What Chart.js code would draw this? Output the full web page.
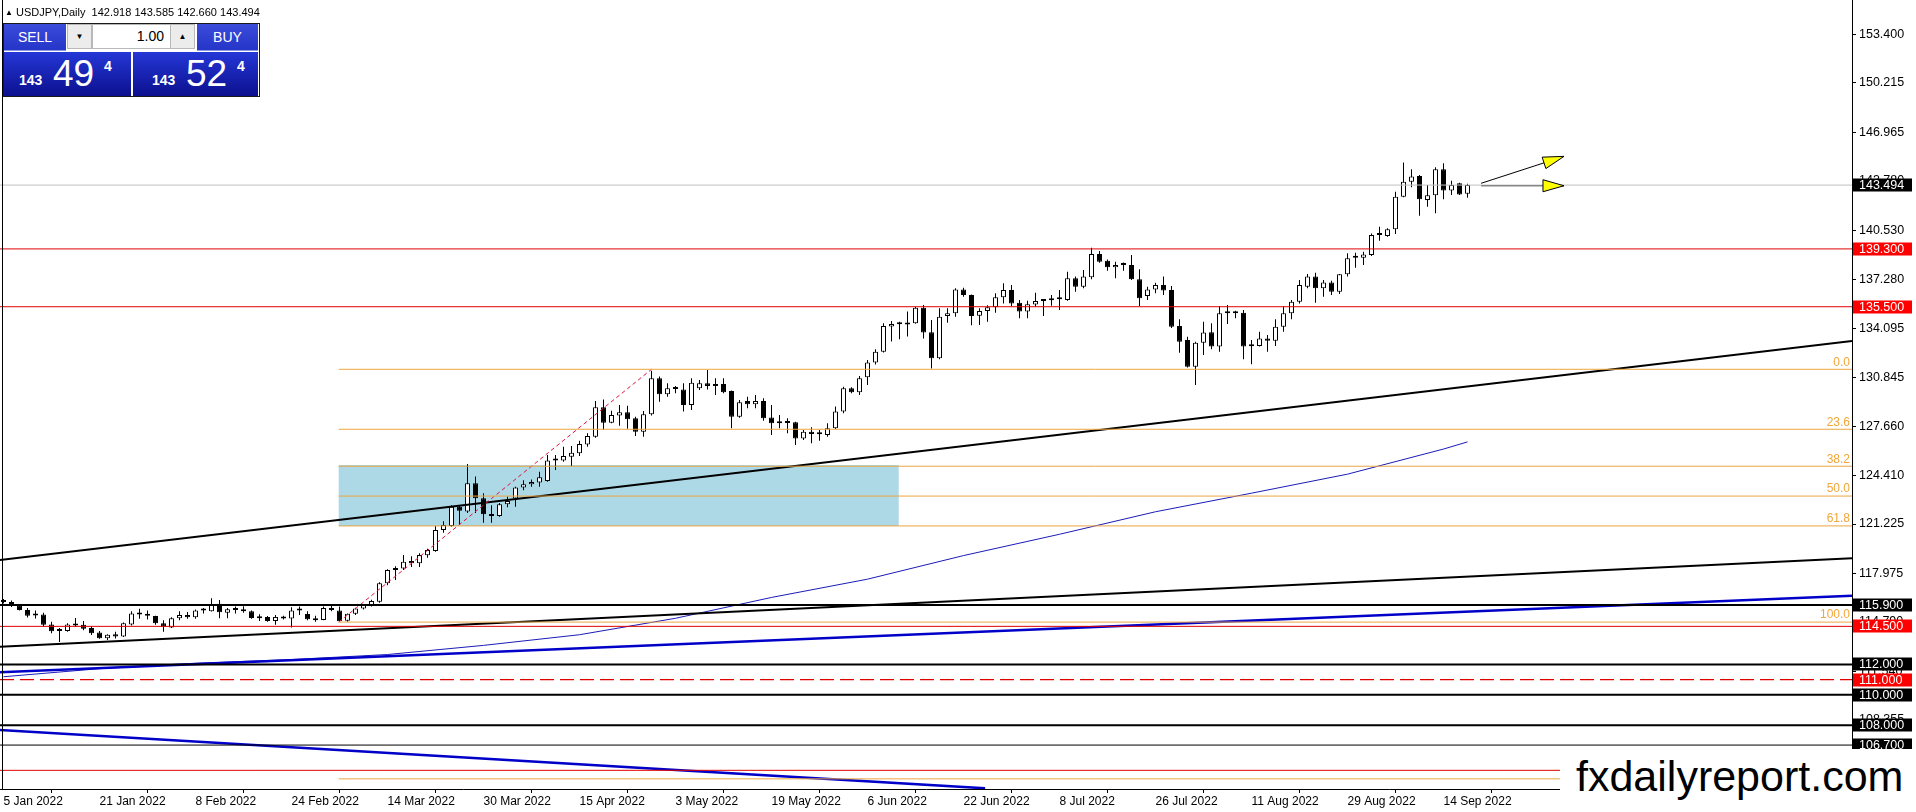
<!DOCTYPE html>
<html>
<head>
<meta charset="utf-8">
<script src="https://cdn.jsdelivr.net/npm/chart.js@4.4.0/dist/chart.umd.min.js"></script>
<style>
  html, body { margin: 0; padding: 0; background: #fff; overflow: hidden; }
  #wrap { position: relative; width: 1916px; height: 812px; font-family: 'Liberation Sans', Arial, sans-serif; }
  canvas { position: absolute; left: 0; top: 0; }
  #title { position: absolute; left: 5px; top: 6px; font-size: 11px; color: #000; white-space: pre; line-height: 13px; }
  #title b { font-weight: normal; font-size: 8px; vertical-align: 1px; }
  .abs { position: absolute; box-sizing: border-box; }
  #panel { left: 3px; top: 23px; width: 257px; height: 74px; border: 1px solid #1a1a1a; background: #fff; }
  .head { top: 24px; height: 27px; background: linear-gradient(#3b4bda, #2535c8); color: #fff; font-size: 14px; line-height: 26px; text-align: center; border-bottom: 1px solid #8f9ae6; }
  .btn { top: 24px; height: 25px; width: 25px; background: #ececec; border: 1px solid #b8b8b8; font-size: 8px; line-height: 23px; text-align: center; color: #000; }
  #lot { left: 92px; top: 24px; width: 79px; height: 25px; background: #fff; border: 1px solid #b8b8b8; font-size: 14px; line-height: 23px; text-align: right; padding-right: 6px; }
  .price { top: 52px; height: 44px; background: linear-gradient(#2537d6, #0c108f); color: #fff; }
  .price span { position: absolute; line-height: 1; white-space: nowrap; }
  .small { font-size: 14px; font-weight: bold; top: 21px; }
  .big { font-size: 37px; top: 3px; }
  .sup { font-size: 14px; font-weight: bold; top: 7px; }
  #mark { left: 1560px; top: 749px; width: 356px; height: 63px; background: #fff; }
  #mark span { position: absolute; left: 16px; top: 6px; font-size: 43px; line-height: 1; color: #000; white-space: nowrap; }
</style>
</head>
<body>
<div id="wrap">
  <canvas id="chart" width="1916" height="812"></canvas>
  <div id="title"><b>▲</b> USDJPY,Daily  142.918 143.585 142.660 143.494</div>
  <div id="panel" class="abs"></div>
  <div class="abs head" style="left:4px;width:62px;">SELL</div>
  <div class="abs btn" style="left:67px;">▼</div>
  <div id="lot" class="abs">1.00</div>
  <div class="abs btn" style="left:170px;">▲</div>
  <div class="abs head" style="left:197px;width:61px;">BUY</div>
  <div class="abs price" style="left:4px;width:127px;">
    <span class="small" style="left:15px;">143</span>
    <span class="big" style="left:49px;">49</span>
    <span class="sup" style="left:100px;">4</span>
  </div>
  <div class="abs price" style="left:133px;width:125px;">
    <span class="small" style="left:19px;">143</span>
    <span class="big" style="left:53px;">52</span>
    <span class="sup" style="left:104px;">4</span>
  </div>
  <div id="mark" class="abs"><span>fxdailyreport.com</span></div>
</div>
<script>
// bar index of each date label (one bar per trading day)
const tickBars = [0, 12, 24, 36, 48, 60, 72, 84, 96, 108, 120, 132, 144, 156, 168, 180];
const tickLabels = ['5 Jan 2022', '21 Jan 2022', '8 Feb 2022', '24 Feb 2022', '14 Mar 2022', '30 Mar 2022',
  '15 Apr 2022', '3 May 2022', '19 May 2022', '6 Jun 2022', '22 Jun 2022', '8 Jul 2022',
  '26 Jul 2022', '11 Aug 2022', '29 Aug 2022', '14 Sep 2022'];

const priceTicks = [153.400, 150.215, 146.965, 143.780, 140.530, 137.280, 134.095, 130.845, 127.660,
  124.410, 121.225, 117.975, 114.790, 111.540, 108.355, 105.105];

// daily candles, 5 Jan 2022 .. 19 Sep 2022
const opens = [
  116.14,116.10,115.86,115.58,115.28,115.28,114.62,114.20,114.20,114.60,
  114.60,114.40,114.10,113.72,113.98,113.83,114.62,115.37,115.28,115.18,
  114.70,114.42,115.03,115.25,115.10,115.55,115.50,115.98,115.40,115.60,
  115.60,115.50,115.03,115.12,114.85,115.10,115.02,115.55,115.32,114.97,
  114.92,115.70,115.55,114.87,115.33,115.68,115.88,116.12,117.33,118.20,
  118.30,118.80,118.65,119.18,119.45,120.83,121.10,122.36,122.05,123.90,
  122.91,121.86,121.75,122.52,122.90,123.63,123.83,123.95,124.05,125.40,
  125.39,125.65,125.88,126.45,126.95,128.89,127.88,128.35,128.56,128.17,
  127.29,128.43,130.80,129.75,130.12,130.07,129.04,130.14,130.47,130.29,
  130.42,129.96,128.28,129.31,129.09,129.31,128.23,127.91,127.88,127.91,
  126.85,127.29,127.14,127.07,127.51,128.61,130.14,129.88,130.86,131.83,
  132.55,134.20,134.36,134.41,134.41,135.44,133.82,132.11,134.89,135.07,
  136.64,136.27,134.91,135.22,135.46,136.12,136.60,135.77,135.18,135.64,
  135.88,135.92,135.99,135.94,137.37,136.82,137.43,138.96,138.53,138.09,
  138.31,138.24,137.30,136.20,136.64,136.93,136.60,134.23,133.31,131.56,
  133.14,133.82,132.88,135.07,135.11,135.11,132.92,132.92,133.42,133.27,
  134.19,135.07,135.83,136.82,137.48,136.71,137.10,136.49,137.63,138.72,
  138.72,138.90,140.21,140.15,140.59,142.73,143.72,144.09,142.51,142.82,
  144.53,143.13,143.61,142.918
];
const highs = [
  116.30,116.20,115.90,115.70,115.55,115.40,114.80,114.40,114.70,115.05,
  114.85,114.52,114.20,113.98,114.15,114.75,115.50,115.65,115.55,115.20,
  114.90,115.10,115.50,115.45,115.60,115.70,116.34,116.23,115.70,115.80,
  115.82,115.55,115.30,115.18,115.25,115.20,115.75,115.80,115.50,115.20,
  115.80,115.85,115.80,115.35,115.72,115.95,116.25,117.40,118.25,118.45,
  119.19,119.10,119.30,119.60,121.09,121.40,122.45,122.45,125.17,124.35,
  123.25,122.45,122.60,123.03,123.68,124.10,124.15,124.66,125.76,125.76,
  126.30,126.35,126.70,127.18,129.30,129.40,128.67,129.05,129.00,128.28,
  128.65,131.30,130.91,130.47,130.29,130.47,130.80,130.69,131.34,130.80,
  130.80,130.00,129.37,129.59,129.70,129.48,129.04,128.39,128.17,127.95,
  127.40,127.58,127.40,127.84,128.94,130.25,130.21,130.95,132.00,132.70,
  134.41,134.56,134.52,135.18,135.50,135.61,134.63,135.40,135.40,136.71,
  136.75,136.30,135.40,135.59,136.38,137.04,136.93,135.94,135.90,136.42,
  135.99,136.27,136.60,137.80,137.48,137.91,139.38,139.16,138.61,138.46,
  138.40,138.90,137.96,136.82,137.08,137.48,136.86,134.67,133.53,133.20,
  134.52,134.41,135.55,135.61,135.24,135.29,133.31,133.86,133.64,134.67,
  135.51,135.94,137.26,137.65,137.74,137.26,137.21,137.65,139.01,139.05,
  139.12,140.32,140.76,140.65,143.06,144.97,144.53,144.15,143.50,144.66,
  144.92,143.78,143.65,143.585
];
const lows = [
  116.00,115.78,115.55,115.08,115.02,114.48,114.04,113.47,114.15,114.45,
  114.25,113.93,113.68,113.60,113.70,113.80,114.55,115.00,114.95,114.60,
  114.15,114.40,114.90,115.00,115.00,115.35,115.47,115.03,115.03,115.35,
  115.40,115.00,114.85,114.80,114.60,114.95,114.43,115.25,114.90,114.80,
  114.90,115.50,114.78,114.80,115.25,115.60,115.80,116.05,117.20,117.55,
  118.20,118.40,118.40,119.00,119.40,120.65,121.05,121.16,121.95,121.95,
  121.30,121.30,121.70,122.32,122.36,123.45,123.68,123.68,124.00,124.77,
  125.32,125.04,125.70,126.30,126.90,127.40,127.84,127.68,127.48,127.01,
  126.96,128.35,129.26,129.59,129.81,128.61,128.72,130.03,130.07,129.70,
  129.81,127.51,128.20,128.83,128.83,128.01,127.07,127.51,127.18,126.42,
  126.75,126.53,126.70,126.96,127.47,128.50,129.81,129.70,130.36,131.70,
  132.50,133.21,133.36,133.54,134.38,133.42,131.45,132.05,134.45,134.85,
  136.16,134.28,134.30,134.52,135.11,135.72,135.54,134.74,134.74,135.50,
  134.89,135.57,135.29,135.90,136.49,136.71,137.30,138.39,137.87,137.37,
  137.87,137.26,135.55,135.94,136.38,136.27,134.10,132.48,131.50,130.36,
  132.33,132.70,132.55,134.37,134.74,132.05,131.72,132.88,132.55,132.92,
  133.86,134.67,135.72,136.71,135.77,136.16,136.27,136.34,137.48,138.07,
  138.24,138.83,139.84,140.10,140.28,142.69,143.35,141.48,142.07,141.64,
  142.56,142.84,142.84,142.660
];
const closes = [
  116.10,115.86,115.58,115.20,115.22,114.60,114.18,114.24,114.62,114.55,
  114.35,114.04,113.72,113.95,113.83,114.70,115.35,115.28,115.20,114.70,
  114.48,115.03,115.25,115.10,115.55,115.58,115.95,115.42,115.62,115.58,
  115.50,115.05,115.15,114.85,115.12,115.02,115.55,115.60,114.97,114.90,
  115.70,115.58,114.83,115.33,115.68,115.90,116.17,117.33,118.20,118.31,
  118.75,118.65,119.19,119.52,120.83,121.16,122.36,122.10,123.90,122.91,
  121.86,121.75,122.52,122.74,123.63,123.83,123.99,124.29,125.39,125.45,
  125.69,125.91,126.48,127.01,128.89,127.88,128.39,128.56,128.10,127.29,
  128.43,130.80,129.75,130.14,130.10,129.04,130.51,130.47,130.29,130.42,
  129.88,128.28,129.22,129.09,129.31,128.17,127.84,127.84,127.86,126.85,
  127.29,127.14,127.12,127.51,128.61,130.14,129.88,130.80,131.83,132.55,
  134.23,134.37,134.35,134.34,135.44,133.80,132.11,134.85,135.07,136.64,
  136.27,134.89,135.22,135.46,136.12,136.60,135.72,135.18,135.66,135.88,
  135.92,135.99,136.05,137.37,136.82,137.48,138.96,138.46,138.09,138.24,
  138.24,137.30,136.05,136.64,136.93,136.56,134.19,133.20,131.56,133.14,
  133.80,132.88,135.07,135.10,135.07,132.88,132.90,133.42,133.27,134.19,
  135.07,135.83,136.93,137.48,136.71,137.10,136.49,137.63,138.68,138.75,
  138.94,140.21,140.23,140.59,142.73,143.72,144.05,142.56,142.82,144.53,
  143.13,143.50,142.88,143.494
];

// slow moving average
const maBars = [0, 12, 24, 36, 48, 60, 72, 84, 96, 108, 120, 132, 144, 156, 168, 180, 183];
const maValues = [111.19, 111.72, 112.08, 112.32, 112.65, 113.25, 113.95, 115.03, 116.40,
  117.60, 119.15, 120.55, 122.03, 123.25, 124.50, 126.15, 126.62];

// trend lines: [bar, price] pairs
const upperTrend = [[-0.44, 118.86], [231.06, 133.25]];
const lowerTrend = [[-0.44, 113.16], [231.06, 118.97]];
const blueTrend = [[-0.44, 111.48], [231.06, 116.51]];
const blueFall = [[-0.44, 107.69], [122.7, 103.86]];
const fibSwing = [[41.9, 114.78], [81, 131.39]];

// horizontal levels
const hLevels = [143.494, 139.3, 135.5, 115.9, 114.5, 112.0, 111.0, 110.0, 108.0, 106.7, 105.04];

// fibonacci retracement (levels and their prices)
const fibNames = ['0.0', '23.6', '38.2', '50.0', '61.8', '100.0', '161.8'];
const fibPrices = [131.39, 127.45, 125.02, 123.06, 121.10, 114.78, 104.48];
const fibStart = 41.9;

// shaded zone
const zoneBars = [41.9, 111.9];
const zonePrices = [125.10, 121.09];

// two arrows to the right of the last candle
const arrowFrom = [[184.7, 143.61], [184.7, 143.45]];
const arrowTo = [[195.06, 145.38], [195.06, 143.45]];

// price labels on the axis
const boxPrices = [143.494, 139.3, 135.5, 115.9, 114.5, 112.0, 111.0, 110.0, 108.0, 106.7];

const FONT = "'Liberation Sans', Arial, sans-serif";
const RED = '#e00000';
const X_MIN = -0.4375, X_MAX = 231.0625;
const Y_MIN = 103.814, Y_MAX = 155.654;

const hStyle = {
  143.494: ['#c0c0c0', 1, []], 139.3: [RED, 1, []], 135.5: [RED, 1, []],
  115.9: ['#000', 2, []], 114.5: [RED, 1, []], 112: ['#000', 2, []],
  111: [RED, 1.2, [14, 6]], 110: ['#000', 2, []], 108: ['#000', 2, []],
  106.7: ['#000', 1, []], 105.04: [RED, 1, []]
};
const boxColor = {
  143.494: '#000', 139.3: '#ff0000', 135.5: '#ff0000', 115.9: '#000', 114.5: '#ff0000',
  112: '#000', 111: '#ff0000', 110: '#000', 108: '#000', 106.7: '#000'
};

const pts = arr => arr.map(p => ({x: p[0], y: p[1]}));
function lineSet(data, color, width, dash) {
  return { type: 'line', data, borderColor: color, borderWidth: width, borderDash: dash || [],
    pointRadius: 0, fill: false, tension: 0, order: 1 };
}

const datasets = [];
datasets.push({
  type: 'bar', data: highs.map((h, i) => ({x: i, y: [lows[i], h]})),
  backgroundColor: '#000', borderWidth: 0, barThickness: 1, inflateAmount: 0,
  grouped: false, order: 3
});
datasets.push({
  type: 'bar', data: closes.map((c, i) => ({x: i, y: [Math.min(opens[i], c), Math.max(opens[i], c)]})),
  backgroundColor: closes.map((c, i) => c > opens[i] ? '#fff' : '#000'),
  borderColor: '#000', borderWidth: 1, borderSkipped: false, barThickness: 5,
  minBarLength: 2, inflateAmount: 0, grouped: false, order: 2
});
hLevels.forEach(v => {
  const s = hStyle[v];
  datasets.push(lineSet([{x: X_MIN, y: v}, {x: X_MAX, y: v}], s[0], s[1], s[2]));
});
fibPrices.forEach(v => datasets.push(lineSet([{x: fibStart, y: v}, {x: X_MAX, y: v}], '#eda540', 1)));
datasets.push(lineSet(pts(fibSwing), '#dc143c', 1, [4, 3]));
datasets.push(lineSet(pts(upperTrend), '#000', 2));
datasets.push(lineSet(pts(lowerTrend), '#000', 2));
datasets.push(lineSet(pts(blueTrend), '#0000c8', 2.5));
datasets.push(lineSet(pts(blueFall), '#0000c8', 2.5));
datasets.push(lineSet(maBars.map((b, k) => ({x: b, y: maValues[k]})), '#1c1cb8', 1));
arrowFrom.forEach((a, k) => datasets.push(lineSet(pts([a, arrowTo[k]]), '#000', 1)));

const extras = {
  id: 'extras',
  beforeDraw(chart) {
    const c = chart.ctx;
    c.save(); c.fillStyle = '#fff'; c.fillRect(0, 0, chart.width, chart.height); c.restore();
  },
  beforeDatasetsDraw(chart) {
    const {ctx, scales: {x, y}} = chart;
    const x0 = x.getPixelForValue(zoneBars[0]), x1 = x.getPixelForValue(zoneBars[1]);
    const y0 = y.getPixelForValue(zonePrices[0]), y1 = y.getPixelForValue(zonePrices[1]);
    ctx.save();
    ctx.fillStyle = '#add8e6';
    ctx.fillRect(x0, y0, x1 - x0, y1 - y0);
    ctx.restore();
  },
  afterDraw(chart) {
    const {ctx, scales: {x, y}, chartArea} = chart;
    ctx.save();
    // left frame
    ctx.fillStyle = '#000';
    ctx.fillRect(2, 0, 1, chartArea.bottom);
    // fibo level captions
    ctx.font = '12px ' + FONT;
    ctx.fillStyle = '#f0a63a';
    ctx.textAlign = 'right';
    ctx.textBaseline = 'bottom';
    fibPrices.forEach((v, k) => ctx.fillText(fibNames[k], chartArea.right - 2, y.getPixelForValue(v) - 1));
    // arrow heads
    arrowFrom.forEach((a, k) => {
      const b = arrowTo[k];
      const ax = x.getPixelForValue(a[0]), ay = y.getPixelForValue(a[1]);
      const bx = x.getPixelForValue(b[0]), by = y.getPixelForValue(b[1]);
      const ang = Math.atan2(by - ay, bx - ax);
      const len = 21, hw = 6;
      const cx = bx - len * Math.cos(ang), cy = by - len * Math.sin(ang);
      ctx.beginPath();
      ctx.moveTo(bx, by);
      ctx.lineTo(cx - hw * Math.sin(ang), cy + hw * Math.cos(ang));
      ctx.lineTo(cx + hw * Math.sin(ang), cy - hw * Math.cos(ang));
      ctx.closePath();
      ctx.fillStyle = '#ffff00';
      ctx.fill();
      ctx.strokeStyle = '#000';
      ctx.lineWidth = 1;
      ctx.stroke();
    });
    // highlighted price labels
    ctx.font = '12.5px ' + FONT;
    ctx.textAlign = 'left';
    ctx.textBaseline = 'middle';
    boxPrices.forEach(v => {
      const py = y.getPixelForValue(v);
      ctx.fillStyle = boxColor[v];
      ctx.fillRect(chartArea.right + 1, Math.round(py) - 6.5, 59, 13);
      ctx.fillStyle = '#fff';
      ctx.fillText(v.toFixed(3), chartArea.right + 7, py + 0.5);
    });
    ctx.restore();
  }
};

new Chart(document.getElementById('chart'), {
  type: 'bar',
  data: { datasets },
  options: {
    responsive: false,
    devicePixelRatio: 1,
    animation: false,
    events: [],
    layout: { padding: 0 },
    plugins: { legend: { display: false }, tooltip: { enabled: false }, title: { display: false } },
    scales: {
      x: {
        type: 'linear', min: X_MIN, max: X_MAX, offset: false,
        afterFit(s) { s.height = 23; s.paddingLeft = 0; s.paddingRight = 0; },
        afterBuildTicks(s) { s.ticks = tickBars.map(v => ({value: v})); },
        ticks: {
          align: 'start', maxRotation: 0, autoSkip: false, padding: 1, color: '#000',
          font: { family: FONT, size: 12 },
          callback: v => tickLabels[tickBars.indexOf(v)] || ''
        },
        grid: { drawOnChartArea: false, tickLength: 4, color: '#000' },
        border: { display: true, color: '#000', width: 1 }
      },
      y: {
        type: 'linear', position: 'right', min: Y_MIN, max: Y_MAX,
        afterFit(s) { s.width = 64; s.paddingTop = 0; s.paddingBottom = 0; },
        afterBuildTicks(s) { s.ticks = priceTicks.map(v => ({value: v})); },
        ticks: {
          autoSkip: false, padding: 3, color: '#000',
          font: { family: FONT, size: 12.5 },
          callback: v => Number(v).toFixed(3)
        },
        grid: { drawOnChartArea: false, tickLength: 4, color: '#000' },
        border: { display: true, color: '#000', width: 1 }
      }
    }
  },
  plugins: [extras]
});
</script>
</body>
</html>
